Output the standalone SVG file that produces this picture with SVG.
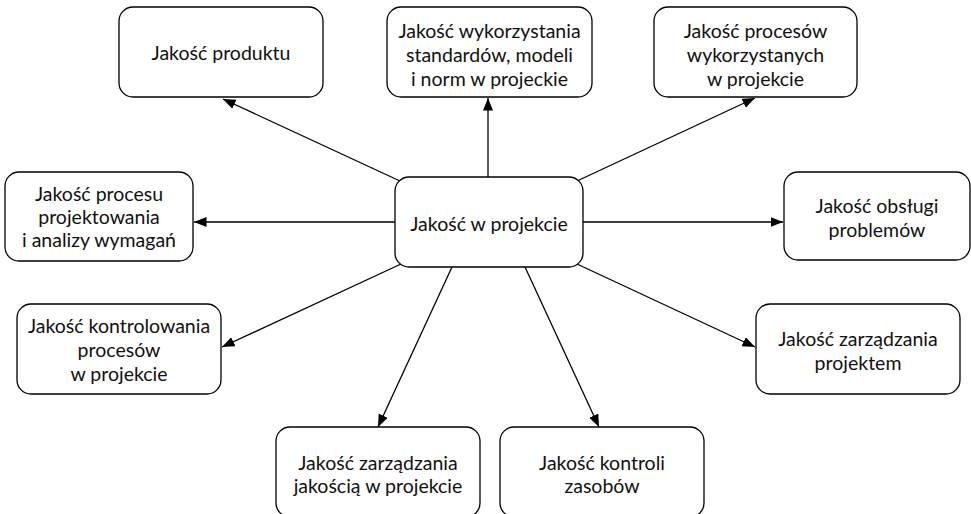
<svg xmlns="http://www.w3.org/2000/svg" width="971" height="514" viewBox="0 0 971 514">
<style>
.box{fill:#fff;stroke:#000;stroke-width:1.3}
text{font-family:Lato,"Liberation Sans",sans-serif;font-size:19.5px;fill:#111;text-anchor:middle}
.c{stroke:#000;stroke-width:1.3;fill:none;marker-end:url(#ah)}
</style>
<defs>
<marker id="ah" markerUnits="userSpaceOnUse" markerWidth="13" markerHeight="11" refX="12.5" refY="5" orient="auto">
<path d="M0,0 L12.5,5 L0,10 z" fill="#000"/>
</marker>
</defs>
<rect width="971" height="514" fill="#fff"/>
<g id="connectors">
<line class="c" x1="400" y1="181" x2="223" y2="99"/>
<line class="c" x1="488" y1="177" x2="488" y2="98"/>
<line class="c" x1="577" y1="181" x2="755" y2="98"/>
<line class="c" x1="395" y1="222" x2="194" y2="222"/>
<line class="c" x1="583" y1="222" x2="783" y2="222"/>
<line class="c" x1="401" y1="264" x2="222" y2="347"/>
<line class="c" x1="452" y1="267" x2="378" y2="427"/>
<line class="c" x1="525" y1="267" x2="599" y2="427"/>
<line class="c" x1="577" y1="264" x2="755" y2="347"/>
</g>
<g id="center">
<rect class="box" x="395" y="177" width="188" height="90" rx="14"/>
<text x="489" y="231">Jakość w projekcie</text>
</g>
<g id="produkt">
<rect class="box" x="119" y="7" width="204" height="90" rx="14"/>
<text x="221" y="60">Jakość produktu</text>
</g>
<g id="standardy">
<rect class="box" x="387" y="7" width="205" height="90" rx="14"/>
<text x="489.5" y="37.5">Jakość wykorzystania</text>
<text x="489.5" y="62">standardów, modeli</text>
<text x="489.5" y="86">i norm w projeckie</text>
</g>
<g id="procesy">
<rect class="box" x="654" y="7" width="203" height="90" rx="14"/>
<text x="755.5" y="38">Jakość procesów</text>
<text x="755.5" y="62">wykorzystanych</text>
<text x="755.5" y="86">w projekcie</text>
</g>
<g id="projektowanie">
<rect class="box" x="5" y="172" width="188" height="89" rx="14"/>
<text x="99" y="201">Jakość procesu</text>
<text x="99" y="224">projektowania</text>
<text x="99" y="247">i analizy wymagań</text>
</g>
<g id="problemy">
<rect class="box" x="784" y="172" width="186" height="88" rx="14"/>
<text x="877" y="213">Jakość obsługi</text>
<text x="877" y="237">problemów</text>
</g>
<g id="kontrolowanie">
<rect class="box" x="17" y="304" width="204" height="90" rx="14"/>
<text x="119" y="333">Jakość kontrolowania</text>
<text x="119" y="357">procesów</text>
<text x="119" y="381">w projekcie</text>
</g>
<g id="zarzadzanie-projektem">
<rect class="box" x="756" y="304" width="204" height="90" rx="14"/>
<text x="858" y="346">Jakość zarządzania</text>
<text x="858" y="370">projektem</text>
</g>
<g id="zarzadzanie-jakoscia">
<rect class="box" x="276" y="427" width="204" height="90" rx="14"/>
<text x="378" y="470">Jakość zarządzania</text>
<text x="378" y="493">jakością w projekcie</text>
</g>
<g id="kontrola-zasobow">
<rect class="box" x="500" y="427" width="204" height="90" rx="14"/>
<text x="602" y="470">Jakość kontroli</text>
<text x="602" y="493">zasobów</text>
</g>
</svg>
